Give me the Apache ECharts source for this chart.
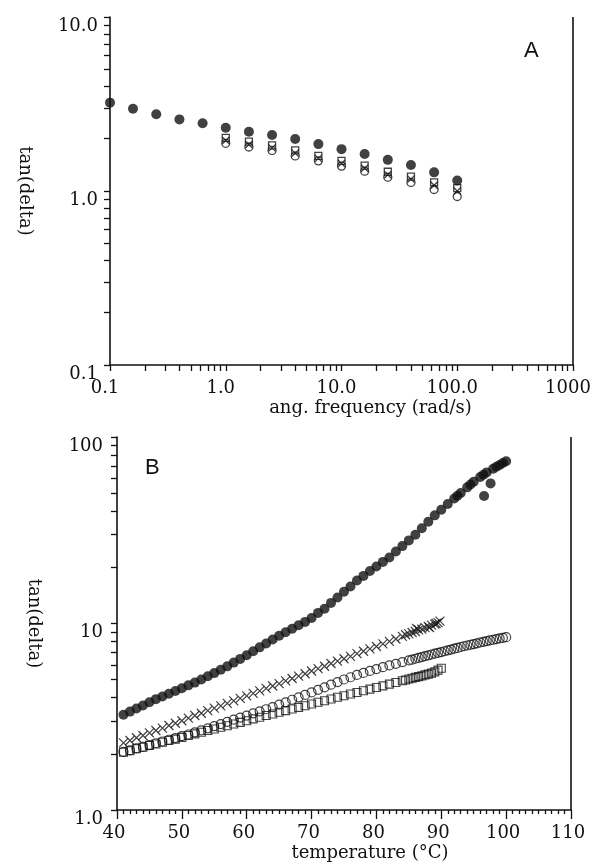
<!DOCTYPE html>
<html><head><meta charset="utf-8">
<script src="https://cdn.jsdelivr.net/npm/echarts@6/dist/echarts.min.js"></script>
<style>html,body{margin:0;padding:0;background:#fff}#c{width:607px;height:868px}</style>
</head><body><div id="c"></div>
<script>
// ---------- Panel A : tan(delta) vs angular frequency ----------
const freqA = [0.1,0.158,0.251,0.398,0.631,1,1.585,2.512,3.981,6.31,10,15.85,25.12,39.81,63.1,100];
const filledA = [3.22,2.97,2.76,2.58,2.45,2.31,2.19,2.10,1.99,1.86,1.74,1.63,1.51,1.41,1.28,1.15];
const freqA2 = [1,1.585,2.512,3.981,6.31,10,15.85,25.12,39.81,63.1,100];
const squareA = [2.02,1.92,1.83,1.71,1.59,1.49,1.40,1.29,1.21,1.12,1.04];
const crossA  = [1.95,1.85,1.77,1.65,1.54,1.44,1.35,1.24,1.17,1.08,1.00];
const circleA = [1.88,1.79,1.71,1.59,1.49,1.39,1.30,1.20,1.12,1.02,0.93];
const xTickValsA = [0.1,1,10,100,1000];
const xTickLabelsA = ['0.1','1.0','10.0','100.0','1000'];
const yTickValsA = [0.1,1,10];
const yTickLabelsA = ['0.1','1.0','10.0'];

// ---------- Panel B : tan(delta) vs temperature ----------
const tempFilledB = [41,42,43,44,45,46,47,48,49,50,51,52,53,54,55,56,57,58,59,60,61,62,63,64,65,66,67,68,69,70,
  71,72,73,74,75,76,77,78,79,80,81,82,83,84,85,86,87,88,89,90,91,92,93,94,95,96,97,98,99,100,
  92.5,94.5,96.5,98.5,99.5,96.6,97.6];
const filledB = [3.24,3.37,3.50,3.63,3.78,3.93,4.06,4.20,4.35,4.50,4.66,4.82,5.01,5.21,5.42,5.65,5.89,6.17,6.46,6.76,
  7.10,7.45,7.82,8.20,8.59,8.97,9.38,9.79,10.2,10.7,11.4,12.0,12.9,13.8,14.8,15.8,17.0,18.0,19.1,20.2,
  21.4,22.6,24.3,26.0,27.9,29.9,32.4,35.1,38.0,40.7,43.7,46.8,50.1,53.7,57.5,61.0,64.6,67.6,70.8,74.1,
  48.4,55.6,62.8,69.2,72.5,48.3,56.4];
const tempCrossB = [41,42,43,44,45,46,47,48,49,50,51,52,53,54,55,56,57,58,59,60,61,62,63,64,65,
  66,67,68,69,70,71,72,73,74,75,76,77,78,79,80,81,82,83,84,85,86,87,88,89,89.5,
  84.5,85.5,86.2,86.5,87.5,88.2,88.5,89.2,89.8];
const crossB = [2.29,2.36,2.44,2.51,2.59,2.67,2.75,2.84,2.92,3.01,3.11,3.21,3.30,3.41,3.52,3.62,3.73,3.85,3.97,4.09,4.22,4.35,4.49,4.62,4.76,
  4.92,5.07,5.22,5.38,5.56,5.73,5.90,6.10,6.28,6.47,6.67,6.89,7.10,7.31,7.53,7.78,8.02,8.26,8.53,8.79,9.06,9.33,9.64,9.93,10.1,
  8.70,8.95,9.40,9.25,9.50,9.50,9.80,10.0,10.3];
const tempCircleB = [41,42,43,44,45,46,47,48,49,50,51,52,53,54,55,56,57,58,59,60,61,62,63,64,65,66,67,68,69,70,
  71,72,73,74,75,76,77,78,79,80,81,82,83,84,85,86,87,88,89,90,91,92,93,94,95,96,97,98,99,100,
  85.5,86.5,87.5,88.5,89.5,90.5,91.5,92.5,93.5,94.5,95.5,96.5,97.5,98.5,99.5];
const circleB = [2.05,2.09,2.14,2.18,2.23,2.28,2.33,2.38,2.43,2.49,2.54,2.61,2.67,2.74,2.82,2.89,2.97,3.05,3.13,3.21,
  3.30,3.38,3.47,3.56,3.67,3.78,3.90,4.02,4.14,4.27,4.41,4.55,4.70,4.85,5.01,5.15,5.30,5.43,5.57,5.70,
  5.83,5.96,6.08,6.21,6.34,6.47,6.61,6.75,6.89,7.03,7.18,7.33,7.48,7.62,7.76,7.91,8.05,8.18,8.32,8.45,
  6.40,6.54,6.68,6.82,6.96,7.10,7.25,7.40,7.55,7.69,7.83,7.98,8.11,8.25,8.38];
const tempSquareB = [41,42,43,44,45,46,47,48,49,50,51,52,53,54,55,56,57,58,59,60,61,62,63,64,65,
  66,67,68,69,70,71,72,73,74,75,76,77,78,79,80,81,82,83,84,85,86,87,88,89,90,
  84.5,85.5,86.5,87.5,88.5,89.5];
const squareB = [2.04,2.08,2.13,2.17,2.22,2.26,2.31,2.36,2.40,2.45,2.51,2.56,2.61,2.67,2.72,2.78,2.83,2.89,2.95,3.01,3.08,3.14,3.21,3.27,3.34,
  3.41,3.48,3.55,3.62,3.70,3.78,3.85,3.94,4.02,4.10,4.19,4.27,4.36,4.45,4.54,4.63,4.73,4.83,4.93,5.04,5.14,5.24,5.35,5.50,5.75,
  4.98,5.09,5.19,5.30,5.42,5.62];
const xTickLabelsB = ['40','50','60','70','80','90','100','110'];
const yTickValsB = [1,10,100];
const yTickLabelsB = ['1.0','10','100'];

// ---------- rendering ----------
const INK = '#111111';
const SERIF = 'DejaVu Serif';
function pairs(xs, ys){ return xs.map((x,i)=>[x, ys[i]]); }
function allLog(lo, hi){ const out=[]; for(let d=lo; d<hi; d*=10){ for(let k=1;k<=9;k++) out.push(+(d*k).toPrecision(6)); } out.push(hi); return out; }
function logLabel(vals, labels){ return v => { const i = vals.findIndex(t => Math.abs(Math.log10(t)-Math.log10(v))<1e-6); return i>=0?labels[i]:''; }; }
function lineS(){ return {color: INK, width: 1.6}; }
function tickS(){ return {color: INK, width: 1.3}; }
function labelS(extra){ return Object.assign({color: INK, fontFamily: SERIF, fontSize: 18}, extra); }
function nameS(extra){ return Object.assign({color: INK, fontFamily: SERIF, fontSize: 18}, extra); }
const crossPath = 'path://M0,0L10,10M10,0L0,10';
function rightBorder(x, y0, y1){
  return {silent:true, symbol:['none','none'], label:{show:false}, animation:false,
    lineStyle:{color:INK, width:1.6, type:'solid'}, emphasis:{disabled:true},
    data:[[{coord:[x, y0]}, {coord:[x, y1]}]]};
}

const chart = echarts.init(document.getElementById('c'));
chart.setOption({
  animation: false,
  grid: [
    {left: 110, top: 17, width: 463, height: 348},
    {left: 117, top: 437, width: 454, height: 373}
  ],
  xAxis: [
    {gridIndex:0, type:'log', min:0.1, max:1000, position:'bottom',
     axisLine:{show:true, onZero:false, lineStyle:lineS()},
     axisTick:{show:true, length:6, lineStyle:tickS(), customValues: allLog(0.1,1000)},
     axisLabel:labelS({margin:14, formatter: logLabel(xTickValsA, xTickLabelsA), padding:[0,10,0,0]}),
     splitLine:{show:false},
     name:'ang. frequency (rad/s)', nameLocation:'middle', nameGap:34,
     nameTextStyle:nameS({padding:[0,0,0,58]})},
    {gridIndex:1, type:'value', min:40, max:110, interval:10, position:'bottom',
     axisLine:{show:true, onZero:false, lineStyle:lineS()},
     axisTick:{show:true, length:9, lineStyle:tickS()},
     minorTick:{show:true, splitNumber:10, length:4, lineStyle:tickS()},
     axisLabel:labelS({margin:14, formatter: (v)=> xTickLabelsB[Math.round((v-40)/10)] || '', padding:[0,6,0,0]}),
     splitLine:{show:false},
     name:'temperature (°C)', nameLocation:'middle', nameGap:34,
     nameTextStyle:nameS({padding:[0,0,0,52]})}
  ],
  yAxis: [
    {gridIndex:0, type:'log', min:0.1, max:10, position:'left',
     axisLine:{show:true, onZero:false, lineStyle:lineS()},
     axisTick:{show:true, length:6, lineStyle:tickS(), customValues: allLog(0.1,10)},
     axisLabel:labelS({margin:12, formatter: logLabel(yTickValsA, yTickLabelsA), verticalAlign:'top'}),
     splitLine:{show:false},
     name:'tan(delta)', nameLocation:'middle', nameRotate:-90, nameGap:76, nameTextStyle:nameS({})},
    {gridIndex:1, type:'log', min:1, max:100, position:'left',
     axisLine:{show:true, onZero:false, lineStyle:lineS()},
     axisTick:{show:true, length:6, lineStyle:tickS(), customValues: allLog(1,100)},
     axisLabel:labelS({margin:14, formatter: logLabel(yTickValsB, yTickLabelsB), verticalAlign:'top'}),
     splitLine:{show:false},
     name:'tan(delta)', nameLocation:'middle', nameRotate:-90, nameGap:74, nameTextStyle:nameS({})}
  ],
  graphic: [
    {type:'text', left:524, top:40, style:{text:'A', font:'22px "Liberation Sans"', fill:INK}},
    {type:'text', left:145, top:457, style:{text:'B', font:'22px "Liberation Sans"', fill:INK}}
  ],
  series: [
    {type:'scatter', xAxisIndex:0, yAxisIndex:0, data:pairs(freqA2, circleA), symbol:'circle', symbolSize:8,
     itemStyle:{color:'rgba(255,255,255,0)', borderColor:INK, borderWidth:1.3}},
    {type:'scatter', xAxisIndex:0, yAxisIndex:0, data:pairs(freqA2, crossA), symbol:crossPath, symbolSize:7,
     itemStyle:{color:'rgba(255,255,255,0)', borderColor:INK, borderWidth:1.3}},
    {type:'scatter', xAxisIndex:0, yAxisIndex:0, data:pairs(freqA2, squareA), symbol:'rect', symbolSize:7,
     itemStyle:{color:'rgba(255,255,255,0)', borderColor:INK, borderWidth:1.3}},
    {type:'scatter', xAxisIndex:0, yAxisIndex:0, data:pairs(freqA, filledA), symbol:'circle', symbolSize:10,
     itemStyle:{color:INK}, clip:false, markLine: rightBorder(1000, 0.1, 10)},

    {type:'scatter', xAxisIndex:1, yAxisIndex:1, data:pairs(tempSquareB, squareB), symbol:'rect', symbolSize:8,
     itemStyle:{color:'rgba(255,255,255,0)', borderColor:INK, borderWidth:1.1}},
    {type:'scatter', xAxisIndex:1, yAxisIndex:1, data:pairs(tempCircleB, circleB), symbol:'circle', symbolSize:9,
     itemStyle:{color:'rgba(255,255,255,0)', borderColor:INK, borderWidth:1.2}},
    {type:'scatter', xAxisIndex:1, yAxisIndex:1, data:pairs(tempCrossB, crossB), symbol:crossPath, symbolSize:9,
     itemStyle:{color:'rgba(255,255,255,0)', borderColor:INK, borderWidth:1.2}},
    {type:'scatter', xAxisIndex:1, yAxisIndex:1, data:pairs(tempFilledB, filledB), symbol:'circle', symbolSize:10,
     itemStyle:{color:INK}, clip:false, markLine: rightBorder(110, 1, 100)}
  ]
});
</script></body></html>
